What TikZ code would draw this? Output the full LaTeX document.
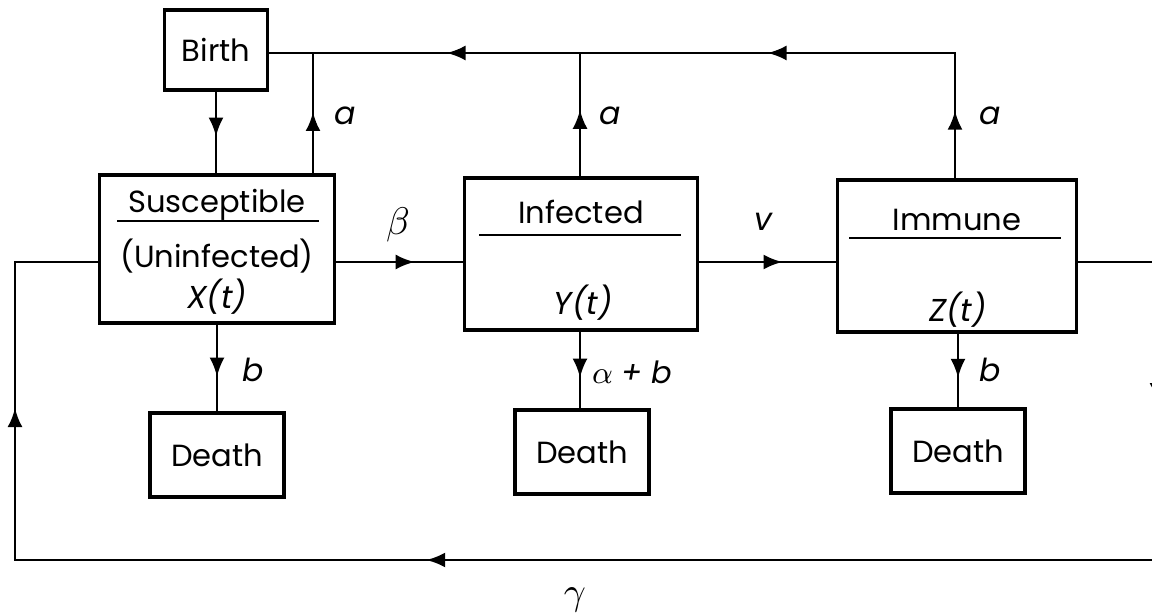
\documentclass[tikz,border=0pt]{standalone}
\usepackage{fontspec}
\setmainfont{Poppins}
\usetikzlibrary{arrows.meta,decorations.markings,positioning}
\tikzset{
  box/.style={draw,line width=.9pt,inner sep=0pt},
  arr/.style={line width=.8pt,line cap=rect,decoration={markings,
    mark=at position #1 with {\arrow{Latex[length=1.9mm,width=1.5mm]}}},postaction=decorate},
  wire/.style={line width=.8pt,line cap=rect},
  lab/.style={font=\fontsize{9}{11}\selectfont\itshape},
  greek/.style={font=\fontsize{11}{13}\selectfont}
}

\begin{document}
\begin{tikzpicture}[x=.1mm,y=-.1mm,font=\fontsize{8.7}{11}\selectfont]
\useasboundingbox (0,0) rectangle (1152,615);
\node[box,minimum width=10.3mm,minimum height=8mm] (birth) at (216,50) {Birth};
\node[box,minimum width=23.5mm,minimum height=14.8mm] (sus) at (217,249) {};
\node[box,minimum width=23.3mm,minimum height=15.2mm] (inf) at (581,254) {};
\node[box,minimum width=23.9mm,minimum height=15.2mm] (imm) at (957,256) {};
\foreach \n/\x/\y in {dS/217/455,dI/582/452,dZ/958/451}
  \node[box,minimum width=13.4mm,minimum height=8.4mm] (\n) at (\x,\y) {Death};
\node (tS) at (217,205) {Susceptible};
\node (tU) at (217,256) {(Uninfected)};
\node[lab] (tX) at (217,297) {X(t)};
\node (tI) at (581,212) {Infected};
\node[lab] (tY) at (583,303) {Y(t)};
\node (tZ) at (957,220) {Immune};
\node[lab] (tZt) at (958,310) {Z(t)};
\draw[wire] (118,221) -- (318,221);
\draw[wire] (480,235) -- (680,235);
\draw[wire] (850,238) -- (1060,238);
\coordinate (lvl) at (0,262);
\coordinate (jS) at (313,53); \coordinate (jI) at (580,53); \coordinate (jZ) at (955,53);
\coordinate (rt) at (1157,262); \coordinate (rb) at (1157,560);
\coordinate (lb) at (15,560); \coordinate (lt) at (15,262);
\draw[arr=.55] (birth) -- (sus.north -| birth);
\draw[arr=.51] (sus.north -| jS) -- (jS);
\draw[arr=.54] (inf.north -| jI) -- (jI);
\draw[arr=.54] (imm.north -| jZ) -- (jZ);
\draw[arr=.5] (jZ) -- (jI);
\draw[arr=.5] (jI) -- (jS);
\draw[wire] (jS) -- (jS -| birth.east);
\draw[arr=.62] (sus.east |- lvl) -- (inf.west |- lvl);
\draw[arr=.61] (inf.east |- lvl) -- (imm.west |- lvl);
\draw[wire] (imm.east |- lvl) -- (rt);
\draw[arr=.47] (rt) -- (rb);
\draw[arr=.64] (rb) -- (lb);
\draw[arr=.51] (lb) -- (lt);
\draw[wire] (lt) -- (sus.west |- lvl);
\draw[arr=.6] (sus.south) -- (sus.south |- dS.north);
\draw[arr=.6] (inf.south -| jI) -- (dI.north -| jI);
\draw[arr=.6] (imm.south -| dZ) -- (dZ.north);
\node[lab] (aS) at (345,116) {a};
\node[lab] (aI) at (610,116) {a};
\node[lab] (aZ) at (990,116) {a};
\node[greek] (beta) at (398,225) {$\beta$};
\node[lab] (nu) at (763,222) {v};
\node[lab] (bS) at (253,370) {b};
\node (bI) at (632,372) {$\alpha$ \textit{+ b}};
\node[lab] (bZ) at (990,370) {b};
\node[greek] (gam) at (575,600) {$\gamma$};
\end{tikzpicture}
\end{document}
